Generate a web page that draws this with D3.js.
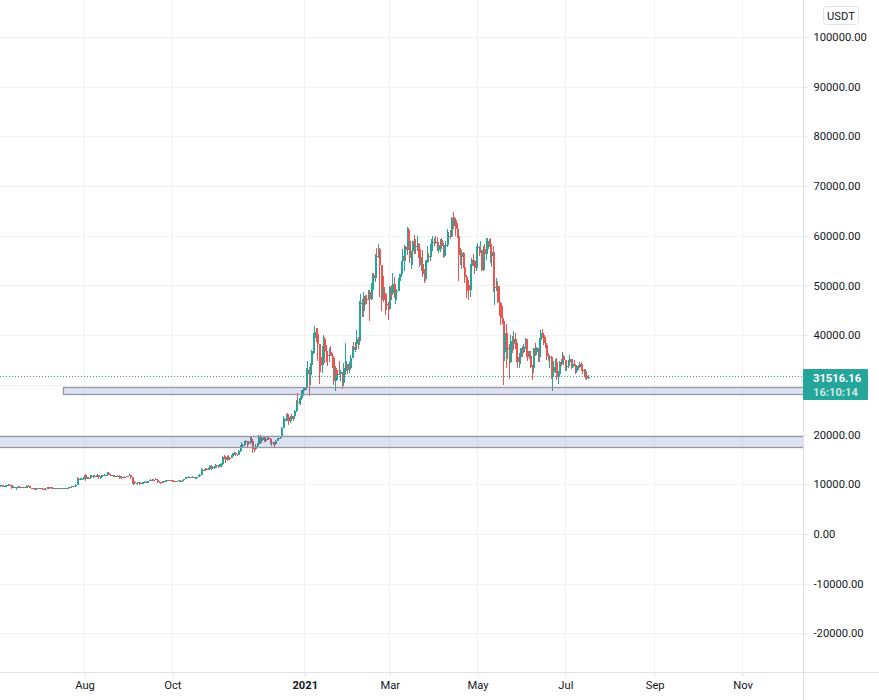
<!DOCTYPE html>
<html>
<head>
<meta charset="utf-8">
<script src="https://cdnjs.cloudflare.com/ajax/libs/d3/7.8.5/d3.min.js"></script>
<style>
	html, body { margin: 0; padding: 0; background: #fff; }
	svg { display: block; font-family: Roboto, "Liberation Sans", sans-serif; }
</style>
</head>
<body>
<svg id="chart" width="879" height="700"></svg>
<script>
const firstDay = '2020-06-03';
const firstOpen = 9520;

// daily candles, one entry per day from firstDay
const closes = [
	9665,9790,9620,9665,9755,9775,9885,9770,9270,9465,9470,9330,9430,9520,9455,9380,9290,9360,9295,9685,9620,9285,9240,9165,9010,9115,9190,9135,
	9235,9090,9060,9135,9070,9340,9255,9435,9235,9285,9235,9300,9240,9255,9195,9130,9155,9170,9210,9160,9390,9525,9580,9535,9700,9930,11030,10910,11100,11110,11350,
	11800,11070,11230,11190,11740,11760,11590,11755,11680,11880,11390,11565,11780,11765,11865,11910,12300,11970,11745,11850,11520,11680,11650,11750,11325,11460,11320,11535,11470,11710,11650,
	11920,11390,10170,10470,10170,10250,10370,10125,10225,10340,10390,10440,10330,10680,10785,10955,10940,10935,11080,10920,10420,10535,10240,10735,10690,10730,10775,10690,10840,10775,
	10620,10570,10545,10670,10790,10600,10670,10925,11050,11295,11375,11540,11425,11425,11505,11320,11360,11500,11750,11915,12800,12970,12930,13115,13030,13070,13650,13280,13455,13560,13800,
	13760,13550,14020,14150,15590,15580,14840,15480,15330,15300,15700,16280,16320,16070,15960,16730,17660,17780,17820,18660,18680,18420,18370,19160,18730,17150,17140,17720,18180,19700,
	18770,19225,19420,18650,19150,19360,19170,18320,18540,18250,18035,18810,19170,19275,19440,21350,22800,23110,23820,23460,22730,23810,23230,23730,24690,26490,26280,27040,27370,28880,28990,
	29330,32180,33000,31990,33950,36770,39430,40670,40240,38240,35540,34010,37370,39150,36770,36010,35820,36630,35890,35470,30850,33000,32090,32270,32240,32500,30360,33390,34250,34260,33090,
	33490,35500,37660,36950,38290,39190,38830,46380,46490,44820,47970,47360,47170,48620,47230,49130,52120,51550,55900,55840,57400,54090,48900,49680,47050,46280,46100,45240,
	49600,48440,50350,48370,48750,48880,50970,52380,54880,55850,57770,57220,61180,59000,55620,56900,58910,57650,58030,58100,57350,54080,54340,52300,51300,55050,55860,55780,57610,58760,58790,
	58720,58720,57060,58200,59120,58020,55950,58080,58100,59770,59980,59830,63580,62960,63160,61330,60000,56150,55660,56470,53790,51700,51190,50090,49060,54020,55040,54860,53570,57700,
	57800,56580,57170,53200,57440,56400,57320,58860,58280,55860,56750,49500,49670,49840,46760,46430,43540,42850,36690,40530,37340,37470,34700,38800,38320,39240,38440,35660,34600,35670,37340,
	36690,37570,39240,36830,35520,35800,33590,33400,37390,36690,37340,35550,39020,40520,40140,38350,38090,35820,35480,35600,31680,32510,33680,34660,31590,32280,34700,34490,35910,35040,
	33510,33800,34640,35290,33690,34220,33880,32860,33810,33510,34260,33090,32730,32820,31880,31380,31516
];
const highs = [
	9800,9880,9860,9740,9800,9800,9980,9990,9935,9540,9560,9490,9500,9560,9590,9480,9400,9400,9400,9790,9780,9690,9340,9315,9200,9205,9235,9200,
	9290,9265,9125,9195,9175,9370,9380,9465,9450,9320,9290,9345,9350,9275,9270,9215,9190,9195,9230,9220,9430,9545,9640,9660,9725,10120,11400,11280,11340,11175,11450,
	11860,12130,11480,11420,11790,11900,11920,11800,11800,12080,11950,11685,11820,11800,11990,11930,12480,12400,11980,11900,11880,11720,11715,11820,11780,11540,11600,11560,11580,11750,11720,
	12090,11950,11460,10640,10570,10350,10410,10430,10300,10480,10410,10580,10580,10750,10830,11000,11050,11040,11180,11050,10950,10580,10540,10760,10760,10790,10800,10880,10860,10860,
	10930,10660,10590,10690,10790,10800,10690,10960,11100,11490,11440,11720,11550,11450,11620,11540,11400,11520,11800,12030,13200,13030,13030,13350,13340,13250,13790,13860,13640,13700,14100,
	13900,13830,14070,14260,15750,15950,15650,15650,15840,15480,15950,16350,16480,16440,16170,16880,17860,18480,18170,18800,18950,18720,18770,19420,19500,19150,17480,18100,18320,19860,
	19920,19300,19550,19530,19170,19420,19420,19290,18640,18560,18280,18950,19400,19350,19560,21560,23770,23290,24170,24300,24100,23840,24100,23780,25000,26870,28420,27400,27850,29000,29300,
	29600,33300,34780,33600,34500,36950,40400,41950,41380,41350,38300,36630,37850,40100,39700,37950,36850,37430,37850,36400,35600,33800,33400,33000,34880,32900,32560,34400,38500,34900,34300,
	34700,35980,37900,38600,38700,40950,39650,46800,48200,47200,48630,48150,48000,49000,49000,50500,52600,52550,56300,57500,58300,57500,54200,51300,52000,48400,48250,46700,
	49800,50200,52600,51800,49400,49200,51450,52400,54900,57400,58150,58000,61800,61650,60600,56950,59000,60100,59450,59900,58600,58450,55800,57200,53300,55100,58000,56600,58400,59300,60000,
	59500,60000,59800,58500,59300,59500,58650,58200,58900,61300,60700,61200,63800,64850,63800,63500,62500,60400,57500,57100,56800,55500,52100,51200,50500,54400,55500,56400,55200,57950,
	58500,57950,58950,57200,58000,58400,59500,59500,59300,59600,57000,58000,51600,51550,51000,49800,46600,45800,42900,42600,42250,38900,38250,40000,39900,40900,40400,38900,37250,36450,37500,
	37900,38200,39500,39300,37900,36800,36900,34000,37500,38400,37700,37450,39400,41000,41330,40500,39550,38200,36450,36000,35750,33300,34900,35300,35500,32700,34750,35300,36650,36000,
	35050,33950,34950,35950,35300,35100,35050,33900,34100,34000,34600,34650,33350,33100,33200,32200,31900
];
const lows = [
	9370,9500,9550,9530,9520,9530,9680,9660,9120,9230,9380,9240,8930,9330,9350,9290,9250,9170,9210,9280,9570,9220,9210,8990,8840,9040,9050,9010,
	9080,9040,9035,9050,8930,9060,9200,9240,9130,9120,9200,9180,9200,9215,9150,9000,9110,9130,9125,9130,9145,9300,9480,9455,9515,9680,9900,10550,10820,10860,10960,
	11210,10650,11000,11000,11090,11560,11350,11520,11520,11530,11130,11160,11470,11640,11680,11660,11850,11810,11570,11675,11480,11380,11520,11580,11130,11260,11150,11290,11420,11460,11560,
	11630,11160,10000,9875,9970,10040,9880,9850,10100,10210,10200,10330,10220,10280,10650,10640,10770,10810,10890,10800,10360,10370,10140,10200,10600,10640,10660,10640,10640,10670,
	10535,10380,10505,10530,10630,10530,10530,10530,10840,11050,11270,11220,11170,11260,11300,11200,11280,11350,11400,11700,11890,12690,12720,12880,12900,12780,13000,12900,12980,13130,13430,
	13200,13200,13500,13500,14080,15170,14320,14700,14800,14820,15300,15500,15950,15670,15750,15850,16540,17210,17340,17750,18480,17600,18000,18060,18500,16200,16500,16880,17500,18000,
	18100,18330,18860,18570,18500,18860,18900,18200,17650,17900,17570,18000,18700,19000,19050,19270,21230,22350,22750,22750,21900,22400,22700,22700,23400,24500,25800,26100,25900,27320,27850,
	28700,29000,32000,27700,29900,33300,36300,36500,38700,34900,30100,32500,32400,36700,34400,34700,33800,34700,35850,33400,30000,28850,31400,30900,31900,30800,29240,29800,31990,32800,32200,
	32300,33400,35400,36150,36600,38100,37300,38000,45000,43750,43700,46150,46300,47000,42800,47000,48900,50900,50700,53200,55500,47600,44900,47050,46700,44100,45000,43000,
	45000,47000,48100,47500,46300,47050,48900,49300,51800,53000,53000,55000,56100,58900,54600,53300,54100,56250,56300,57000,55500,53650,53000,51700,50500,50900,54500,54700,54900,57000,57000,
	57900,58400,57000,56500,56800,57350,55500,55700,57700,57800,59300,59400,59800,61300,62000,60050,59500,50900,54200,53400,53600,50500,47500,48800,47000,47600,53800,53900,52300,53000,
	56050,56000,56950,53000,52900,55250,55200,56900,57650,54500,53800,48600,46000,48800,46500,43800,42100,42200,29900,34800,33500,35200,31100,34400,36400,37100,37200,34700,33400,33400,34200,
	35700,36450,37200,35600,34800,35200,33400,31000,32400,35800,35950,34600,34700,38750,39400,38100,37400,35100,34800,33350,31250,28800,31700,32300,30950,30150,32000,33900,34250,34050,
	32700,32700,33300,34200,33100,33500,33800,32100,32300,33000,33300,32700,32200,31600,31100,31050,31200
];

const priceTicks = [100000, 90000, 80000, 70000, 60000, 50000, 40000, 30000, 20000, 10000, 0, -10000, -20000];
// 30000 sits under the last price tag, so only its grid line shows
const priceLabels = priceTicks.filter(d => d !== 30000);
const timeTicks = ['2020-08-01', '2020-10-01', '2021-01-01', '2021-03-01', '2021-05-01', '2021-07-01', '2021-09-01', '2021-11-01'];
const timeLabels = ['Aug', 'Oct', '2021', 'Mar', 'May', 'Jul', 'Sep', 'Nov'];

// support zones: from date, top price, bottom price
const zones = [
	{ from: '2020-07-17', top: 29520, bottom: 28120 },
	{ from: '2020-05-01', top: 19750, bottom: 17520 }
];

const lastPrice = 31516.16;
const countdown = '16:10:14';

const upColor = '#26a69a';
const downColor = '#ef5350';
const gridColor = '#f1f2f4';
const axisColor = '#e0e3e6';
const textColor = '#131722';

const paneWidth = 803;
const paneHeight = 672;

const svg = d3.select('#chart');

const x = d3
	.scaleUtc()
	.domain([new Date('2020-08-01'), new Date('2021-11-01')])
	.range([84.5, 742.5]);
const y = d3
	.scaleLinear()
	.domain([100000, -20000])
	.range([37, 633.4]);

const tickDates = timeTicks.map(d => new Date(d));

svg
	.append('defs')
	.append('clipPath')
	.attr('id', 'pane')
	.append('rect')
	.attr('width', paneWidth)
	.attr('height', paneHeight);

// grid
const grid = svg.append('g').attr('shape-rendering', 'crispEdges');
grid
	.selectAll('.hgrid')
	.data(priceTicks)
	.enter()
	.append('line')
	.attr('x1', 0)
	.attr('x2', paneWidth)
	.attr('y1', d => Math.round(y(d)) + 0.5)
	.attr('y2', d => Math.round(y(d)) + 0.5)
	.attr('stroke', gridColor);
grid
	.selectAll('.vgrid')
	.data(tickDates)
	.enter()
	.append('line')
	.attr('x1', d => Math.floor(x(d)) + 0.5)
	.attr('x2', d => Math.floor(x(d)) + 0.5)
	.attr('y1', 0)
	.attr('y2', paneHeight)
	.attr('stroke', gridColor);

// last price line
svg
	.append('line')
	.attr('x1', 0)
	.attr('x2', paneWidth)
	.attr('y1', Math.round(y(lastPrice)) - 0.5)
	.attr('y2', Math.round(y(lastPrice)) - 0.5)
	.attr('stroke', upColor)
	.attr('stroke-dasharray', '1 2')
	.attr('shape-rendering', 'crispEdges');

// candles
const candles = closes.map((close, i) => ({
	date: d3.utcDay.offset(new Date(firstDay), i),
	open: i ? closes[i - 1] : firstOpen,
	high: highs[i],
	low: lows[i],
	close: close
}));

const candleGroup = svg
	.append('g')
	.attr('clip-path', 'url(#pane)')
	.attr('shape-rendering', 'crispEdges');

candleGroup
	.selectAll('.wick')
	.data(candles)
	.enter()
	.append('rect')
	.attr('class', 'wick')
	.attr('x', d => Math.floor(x(d.date)))
	.attr('width', 1)
	.attr('y', d => y(d.high))
	.attr('height', d => y(d.low) - y(d.high))
	.attr('fill', d => (d.close >= d.open ? upColor : downColor));

candleGroup
	.selectAll('.body')
	.data(candles)
	.enter()
	.append('rect')
	.attr('class', 'body')
	.attr('x', d => Math.floor(x(d.date)))
	.attr('width', 2)
	.attr('y', d => y(Math.max(d.open, d.close)))
	.attr('height', d => Math.max(1, Math.abs(y(d.open) - y(d.close))))
	.attr('fill', d => (d.close >= d.open ? upColor : downColor));

// zones sit on top of the candles
svg
	.append('g')
	.attr('clip-path', 'url(#pane)')
	.selectAll('rect')
	.data(zones)
	.enter()
	.append('rect')
	.attr('x', d => Math.round(x(new Date(d.from))) + 0.5)
	.attr('width', d => paneWidth + 20 - x(new Date(d.from)))
	.attr('y', d => Math.round(y(d.top)) + 0.5)
	.attr('height', d => Math.round(y(d.bottom)) - Math.round(y(d.top)))
	.attr('fill', 'rgba(60, 80, 180, 0.17)')
	.attr('stroke', '#9598a1')
	.attr('stroke-width', 1.3);

// axes
const yAxis = svg
	.append('g')
	.attr('transform', 'translate(' + (paneWidth + 0.5) + ',0)')
	.call(
		d3
			.axisRight(y)
			.tickValues(priceLabels)
			.tickSize(5)
			.tickPadding(5)
			.tickFormat(d => d.toFixed(2))
	);

const xAxis = svg
	.append('g')
	.attr('transform', 'translate(0,' + (paneHeight + 0.5) + ')')
	.call(
		d3
			.axisBottom(x)
			.tickValues(tickDates)
			.tickSize(4)
			.tickPadding(5)
			.tickFormat((d, i) => timeLabels[i])
	);

[yAxis, xAxis].forEach(axis => {
	axis.selectAll('.domain').attr('stroke', axisColor);
	axis.selectAll('.tick line').attr('stroke', axisColor);
	axis
		.selectAll('.tick text')
		.attr('fill', textColor)
		.style('font-size', '11.2px')
		.style('font-family', 'Roboto, "Liberation Sans", sans-serif');
});
yAxis.select('.domain').attr('d', 'M0,0V' + 700);
xAxis.select('.domain').attr('d', 'M0,0H' + 879);
xAxis
	.selectAll('.tick text')
	.filter(d => d.getUTCMonth() === 0)
	.style('font-weight', 'bold');

// currency badge
svg
	.append('rect')
	.attr('x', 823.5)
	.attr('y', 6.5)
	.attr('width', 35)
	.attr('height', 18)
	.attr('rx', 3)
	.attr('fill', '#fff')
	.attr('stroke', axisColor);
svg
	.append('text')
	.attr('x', 841)
	.attr('y', 19.5)
	.attr('text-anchor', 'middle')
	.attr('fill', textColor)
	.style('font-size', '11.2px')
	.text('USDT');

// last price tag
svg
	.append('rect')
	.attr('x', paneWidth)
	.attr('y', 369)
	.attr('width', 65)
	.attr('height', 31)
	.attr('rx', 1)
	.attr('fill', upColor);
svg
	.append('text')
	.attr('x', 813)
	.attr('y', 382)
	.attr('fill', '#fff')
	.style('font-size', '11.2px')
	.style('font-weight', 'bold')
	.text(lastPrice.toFixed(2));
svg
	.append('text')
	.attr('x', 813)
	.attr('y', 396)
	.attr('fill', '#fff')
	.attr('fill-opacity', 0.75)
	.style('font-size', '11.2px')
	.style('font-weight', 'bold')
	.text(countdown);
</script>
</body>
</html>
